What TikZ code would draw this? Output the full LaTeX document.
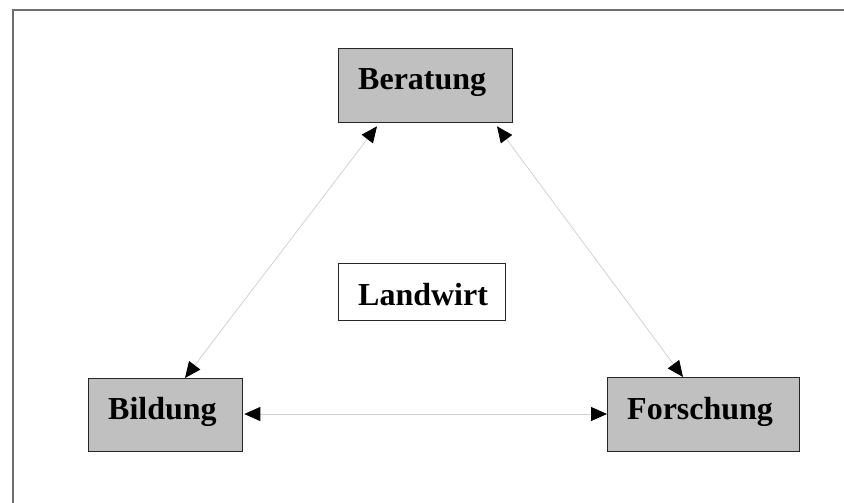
\documentclass[tikz,border=0pt]{standalone}
\usepackage{fontspec}
\setmainfont{Liberation Serif}
\usetikzlibrary{arrows.meta}
\definecolor{boxgray}{RGB}{192,192,192}
\definecolor{framegray}{RGB}{110,110,110}
\definecolor{linegray}{RGB}{210,210,210}
\tikzset{
  box/.style={draw=black!85, line width=1.3pt, fill=boxgray, anchor=north west, inner sep=0pt},
  wbox/.style={draw=black!85, line width=1.3pt, fill=white, anchor=north west, inner sep=0pt},
  lbl/.style={anchor=base west, inner sep=0pt, font=\fontsize{32}{36}\selectfont\bfseries},
  conn/.style={draw=linegray, line width=0.8pt, {Triangle[length=16pt,width=14pt,color=black]}-{Triangle[length=16pt,width=14pt,color=black]}}
}
\begin{document}
\begin{tikzpicture}[x=1pt,y=-1pt]
\useasboundingbox (0,0) rectangle (844,503);
\fill[white] (0,0) rectangle (844,503);
\draw[framegray, line width=2pt] (12.5,503) -- (12.5,10) -- (844,10);
% boxes
\node[box, minimum width=174pt, minimum height=74pt] (ber) at (338,48) {};
\node[box, minimum width=154pt, minimum height=73pt] (bil) at (88,378) {};
\node[box, minimum width=192pt, minimum height=74pt] (for) at (607,377) {};
\node[wbox, minimum width=167pt, minimum height=57pt] (lan) at (338,263) {};
% labels
\node[lbl] (tber) at (358,89) {Beratung};
\node[lbl] (tbil) at (108,419) {Bildung};
\node[lbl] (tfor) at (627,419) {Forschung};
\node[lbl] (tlan) at (358,305) {Landwirt};
% connectors
\draw[conn] ([shift={(39,3)}]ber.south west) -- ([shift={(97,0)}]bil.north west);
\draw[conn] ([shift={(159,3)}]ber.south west) -- ([shift={(76,0)}]for.north west);
\draw[conn] ([shift={(1,36)}]bil.north east) -- ([shift={(0,37)}]for.north west);
\end{tikzpicture}
\end{document}
